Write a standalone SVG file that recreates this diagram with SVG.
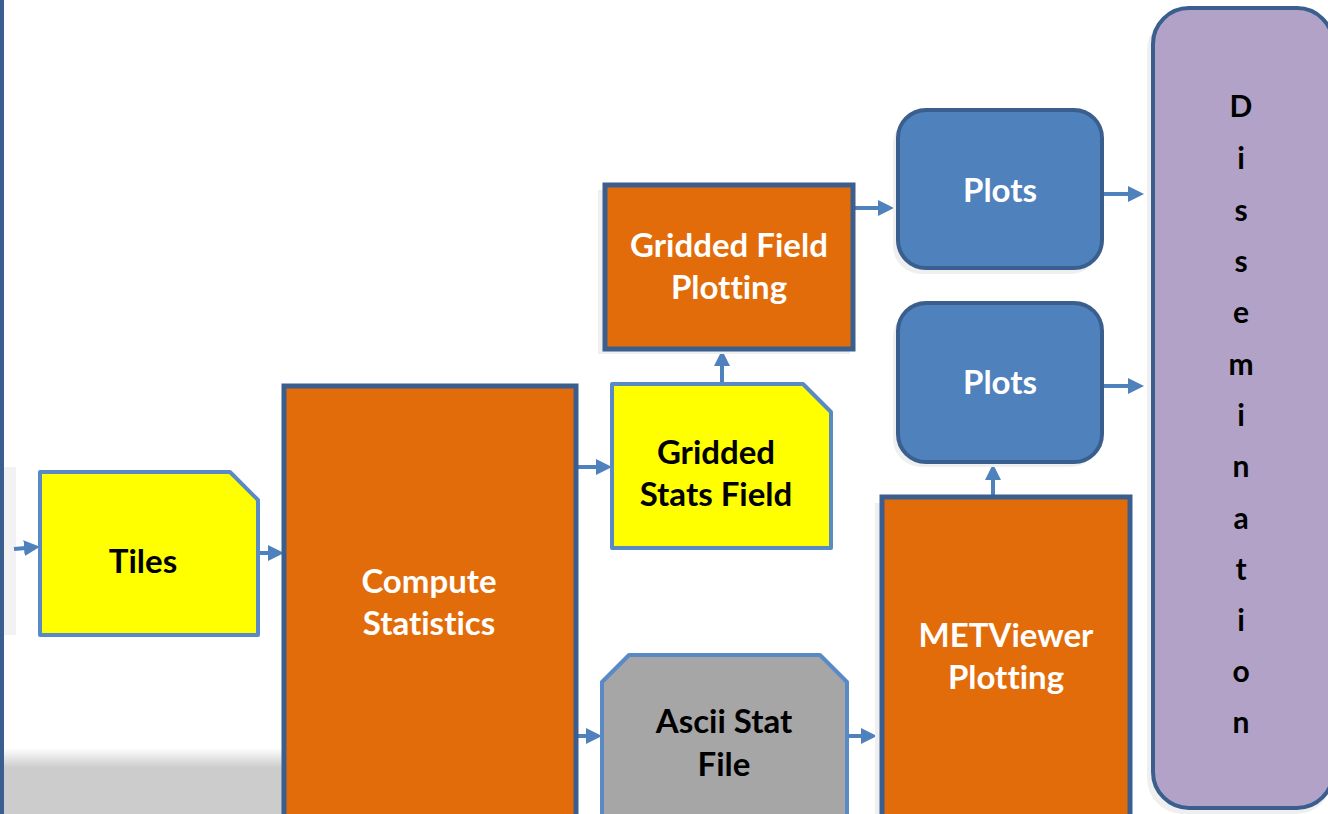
<svg xmlns="http://www.w3.org/2000/svg" width="1328" height="814" viewBox="0 0 1328 814">
<defs>
<linearGradient id="fade" x1="0" y1="0" x2="0" y2="1">
<stop offset="0" stop-color="#ffffff"/>
<stop offset="0.3" stop-color="#cccccc"/>
<stop offset="1" stop-color="#cccccc"/>
</linearGradient>
<marker id="ah" markerWidth="4" markerHeight="4" refX="0.5" refY="2" orient="auto" markerUnits="strokeWidth">
<path d="M0,0 L4,2 L0,4 z" fill="#4f81bd"/>
</marker>
<style>
.proc{fill:#e36c0a;stroke:#3a5f8f;stroke-width:5}
.doc{fill:#ffff00;stroke:#5a8ac6;stroke-width:4;stroke-linejoin:round}
.plot{fill:#4f81bd;stroke:#3a5f8f;stroke-width:4}
.shadow{fill:#efefef}
.conn{stroke:#4f81bd;stroke-width:4;fill:none;marker-end:url(#ah)}
text{font-family:Lato,"Open Sans","Liberation Sans",sans-serif;font-weight:bold;text-anchor:middle;font-variant-ligatures:none;font-feature-settings:"liga" 0,"clig" 0}
.w{fill:#ffffff;font-size:33px}
.b{fill:#000000;font-size:33px}
.d{fill:#000000;font-size:30px}
</style>
</defs>
<rect x="0" y="0" width="1328" height="814" fill="#ffffff"/>
<rect x="0" y="467" width="16" height="168" fill="#f2f2f2"/>
<rect x="3" y="748" width="281" height="66" fill="url(#fade)"/>
<rect x="0" y="0" width="4" height="814" fill="#3a5f8f"/>

<g id="connectors">
<line class="conn" x1="14" y1="549" x2="26" y2="548"/>
<line class="conn" x1="258" y1="553" x2="270" y2="553"/>
<line class="conn" x1="576" y1="467" x2="598" y2="467"/>
<line class="conn" x1="576" y1="736" x2="588" y2="736"/>
<line class="conn" x1="722" y1="384" x2="722" y2="364"/>
<line class="conn" x1="853" y1="208" x2="880" y2="208"/>
<line class="conn" x1="1102" y1="194" x2="1130" y2="194"/>
<line class="conn" x1="1102" y1="386" x2="1130" y2="386"/>
<line class="conn" x1="993" y1="497" x2="993" y2="478"/>
<line class="conn" x1="847" y1="736" x2="863" y2="736"/>
</g>

<g id="tiles">
<path class="doc" d="M40,472 H230 L258,500 V635 H40 Z"/>
<text class="b" x="143" y="573">Tiles</text>
</g>

<g id="compute">
<rect class="proc" x="284" y="386" width="292" height="440"/>
<text class="w" x="429" y="593">Compute</text>
<text class="w" x="429" y="635">Statistics</text>
</g>

<g id="gridded-stats">
<path class="doc" d="M612,384 H803 L831,412 V548 H612 Z"/>
<text class="b" x="716" y="464">Gridded</text>
<text class="b" x="716" y="506">Stats Field</text>
</g>

<g id="gridded-plotting">
<rect class="shadow" x="598" y="190" width="252" height="164"/>
<rect class="proc" x="605" y="185" width="248" height="164"/>
<text class="w" x="729" y="257">Gridded Field</text>
<text class="w" x="729" y="299">Plotting</text>
</g>

<g id="plots1">
<rect class="shadow" x="893" y="116" width="206" height="158" rx="28"/>
<rect class="plot" x="898" y="110" width="204" height="158" rx="28"/>
<text class="w" x="1000" y="202">Plots</text>
</g>

<g id="plots2">
<rect class="shadow" x="893" y="309" width="206" height="158" rx="28"/>
<rect class="plot" x="898" y="303" width="204" height="159" rx="28"/>
<text class="w" x="1000" y="394">Plots</text>
</g>

<g id="ascii">
<path d="M602,682 L629,655 H820 L847,682 V830 H602 Z" fill="#a6a6a6" stroke="#5a8ac6" stroke-width="4" stroke-linejoin="round"/>
<text class="b" x="724" y="733">Ascii Stat</text>
<text class="b" x="724" y="776">File</text>
</g>

<g id="metviewer">
<rect class="shadow" x="875" y="503" width="252" height="320"/>
<rect class="proc" x="882" y="497" width="248" height="330"/>
<text class="w" x="1006" y="647">METViewer</text>
<text class="w" x="1006" y="689">Plotting</text>
</g>

<g id="dissemination">
<rect class="shadow" x="1147" y="14" width="185" height="800" rx="36"/>
<rect x="1153" y="8" width="180" height="800" rx="36" fill="#b2a2c7" stroke="#3a5f8f" stroke-width="4"/>
<text class="d" x="1241" y="117">D</text>
<text class="d" x="1241" y="169">i</text>
<text class="d" x="1241" y="221">s</text>
<text class="d" x="1241" y="272">s</text>
<text class="d" x="1241" y="323">e</text>
<text class="d" x="1241" y="375">m</text>
<text class="d" x="1241" y="426">i</text>
<text class="d" x="1241" y="477">n</text>
<text class="d" x="1241" y="529">a</text>
<text class="d" x="1241" y="580">t</text>
<text class="d" x="1241" y="631">i</text>
<text class="d" x="1241" y="682">o</text>
<text class="d" x="1241" y="733">n</text>
</g>
</svg>
